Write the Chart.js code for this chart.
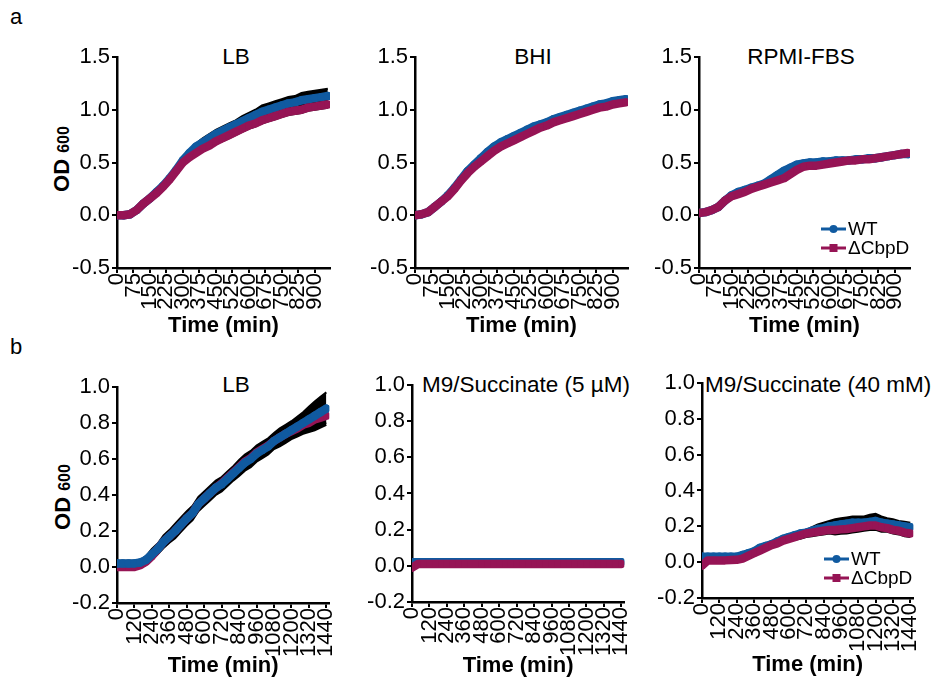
<!DOCTYPE html>
<html>
<head>
<meta charset="utf-8">
<script src="https://cdn.jsdelivr.net/npm/chart.js@4.4.1/dist/chart.umd.min.js"></script>
<style>
body { margin: 0; background: #fff; width: 940px; height: 682px; position: relative; overflow: hidden;
       font-family: "Liberation Sans", Arial, sans-serif; color: #000; }
canvas { position: absolute; }
.txt { position: absolute; font-size: 22.5px; line-height: 1; white-space: nowrap; }
.mid { transform: translateX(-50%); }
.ylab { position: absolute; font-weight: bold; font-size: 22px; line-height: 1; white-space: nowrap;
        transform: translate(-50%, -50%) rotate(-90deg); }
.ylab span { font-size: 16px; }
</style>
</head>
<body>
<div class="txt" style="left:10px;top:6px;font-size:22px">a</div>
<div class="txt" style="left:10px;top:336px;font-size:22px">b</div>
<div class="ylab" style="left:62px;top:159px">OD <span>600</span></div>
<div class="ylab" style="left:63px;top:497px">OD <span>600</span></div>
<div class="txt mid" style="left:236px;top:46px">LB</div>
<div class="txt mid" style="left:533px;top:46px">BHI</div>
<div class="txt mid" style="left:801px;top:46px">RPMI-FBS</div>
<div class="txt mid" style="left:236px;top:374px">LB</div>
<div class="txt" style="left:422px;top:374px">M9/Succinate (5 µM)</div>
<div class="txt" style="left:705px;top:374px">M9/Succinate (40 mM)</div>

<script>
// time points (min)
const timeA = [0,30,60,90,120,150,180,210,240,270,300,330,360,390,420,450,480,510,540,570,600,630,660,690,720,750,780,810,840,870,900,930,960];
const timeB = [0,40,80,120,160,200,240,280,320,360,400,440,480,520,560,600,640,680,720,760,800,840,880,920,960,1000,1040,1080,1120,1160,1200,1240,1280,1320,1360,1400,1440];

// tick labels
const xTicksA = [0,75,150,225,300,375,450,525,600,675,750,825,900];
const xTicksB = [0,120,240,360,480,600,720,840,960,1080,1200,1320,1440];
const yTicksA = [-0.5,0,0.5,1.0,1.5];
const yTicksB = [-0.2,0,0.2,0.4,0.6,0.8,1.0];

const seriesNames = ['WT', 'ΔCbpD'];

// a - LB
const aLB_wt   = [0.00,0.00,0.01,0.05,0.11,0.16,0.22,0.28,0.35,0.43,0.52,0.59,0.65,0.69,0.73,0.77,0.80,0.83,0.86,0.89,0.92,0.95,0.98,1.00,1.02,1.04,1.06,1.07,1.09,1.10,1.11,1.12,1.13];
const aLB_wtSd = [0.01,0.01,0.01,0.01,0.01,0.02,0.02,0.02,0.02,0.03,0.03,0.03,0.03,0.04,0.04,0.04,0.04,0.04,0.04,0.05,0.05,0.05,0.06,0.06,0.06,0.06,0.06,0.06,0.07,0.07,0.07,0.07,0.07];
const aLB_ko   = [0.00,0.00,0.01,0.05,0.11,0.16,0.21,0.27,0.34,0.42,0.50,0.55,0.59,0.63,0.66,0.70,0.73,0.76,0.79,0.82,0.85,0.87,0.90,0.92,0.94,0.96,0.98,0.99,1.00,1.02,1.03,1.04,1.05];
const aLB_koSd = [0.01,0.01,0.01,0.01,0.01,0.01,0.01,0.02,0.02,0.02,0.02,0.02,0.02,0.02,0.02,0.02,0.03,0.03,0.03,0.03,0.03,0.03,0.03,0.03,0.03,0.03,0.03,0.03,0.03,0.03,0.03,0.03,0.03];

// a - BHI
const aBHI_wt   = [0.00,0.01,0.03,0.08,0.13,0.19,0.26,0.34,0.42,0.48,0.54,0.60,0.65,0.69,0.72,0.75,0.78,0.81,0.84,0.86,0.88,0.91,0.93,0.95,0.97,0.99,1.01,1.03,1.05,1.06,1.08,1.09,1.10];
const aBHI_wtSd = [0.01,0.01,0.01,0.01,0.01,0.01,0.02,0.02,0.02,0.02,0.02,0.02,0.02,0.02,0.02,0.02,0.02,0.02,0.02,0.02,0.02,0.02,0.02,0.02,0.02,0.02,0.02,0.02,0.02,0.02,0.02,0.02,0.02];
const aBHI_ko   = [0.00,0.01,0.03,0.08,0.13,0.18,0.25,0.33,0.40,0.46,0.51,0.56,0.61,0.65,0.68,0.71,0.74,0.77,0.80,0.83,0.85,0.88,0.90,0.92,0.94,0.96,0.98,1.00,1.02,1.03,1.05,1.06,1.07];
const aBHI_koSd = [0.01,0.01,0.01,0.01,0.01,0.01,0.02,0.02,0.02,0.02,0.02,0.02,0.02,0.02,0.02,0.02,0.02,0.02,0.02,0.02,0.02,0.02,0.02,0.02,0.02,0.02,0.02,0.02,0.02,0.02,0.02,0.02,0.02];

// a - RPMI-FBS
const aRP_wt   = [0.02,0.03,0.05,0.08,0.14,0.19,0.22,0.24,0.26,0.28,0.30,0.34,0.38,0.42,0.45,0.48,0.49,0.50,0.50,0.51,0.51,0.52,0.52,0.52,0.53,0.53,0.54,0.54,0.55,0.56,0.57,0.58,0.58];
const aRP_wtSd = [0.01,0.01,0.01,0.01,0.01,0.01,0.01,0.01,0.02,0.02,0.02,0.02,0.02,0.02,0.02,0.02,0.02,0.02,0.02,0.02,0.02,0.02,0.02,0.02,0.02,0.02,0.02,0.02,0.02,0.02,0.02,0.02,0.02];
const aRP_ko   = [0.02,0.03,0.05,0.08,0.14,0.18,0.20,0.22,0.25,0.27,0.29,0.31,0.33,0.35,0.39,0.43,0.46,0.47,0.47,0.48,0.49,0.50,0.51,0.52,0.52,0.53,0.53,0.54,0.55,0.56,0.57,0.58,0.59];
const aRP_koSd = [0.01,0.01,0.01,0.01,0.01,0.01,0.01,0.01,0.02,0.02,0.02,0.02,0.02,0.02,0.02,0.02,0.02,0.02,0.02,0.02,0.02,0.02,0.02,0.02,0.02,0.02,0.02,0.02,0.02,0.02,0.02,0.02,0.02];

// b - LB
const bLB_wt   = [0.02,0.02,0.02,0.02,0.025,0.04,0.07,0.10,0.14,0.17,0.20,0.235,0.27,0.30,0.35,0.38,0.41,0.44,0.46,0.49,0.52,0.55,0.58,0.60,0.63,0.65,0.67,0.70,0.72,0.74,0.76,0.78,0.80,0.82,0.84,0.86,0.88];
const bLB_wtSd = [0.015,0.015,0.015,0.015,0.015,0.02,0.03,0.03,0.035,0.035,0.04,0.04,0.04,0.04,0.04,0.04,0.04,0.04,0.04,0.04,0.04,0.045,0.045,0.045,0.045,0.045,0.045,0.045,0.05,0.05,0.05,0.055,0.06,0.07,0.08,0.085,0.09];
const bLB_ko   = [0.00,0.00,0.00,0.00,0.01,0.03,0.06,0.10,0.14,0.17,0.20,0.235,0.27,0.30,0.35,0.38,0.41,0.44,0.465,0.495,0.525,0.555,0.585,0.605,0.635,0.655,0.675,0.70,0.72,0.74,0.755,0.77,0.79,0.80,0.82,0.83,0.84];
const bLB_koSd = [0.01,0.01,0.01,0.01,0.01,0.02,0.02,0.02,0.02,0.02,0.02,0.02,0.02,0.02,0.02,0.02,0.02,0.02,0.02,0.02,0.02,0.02,0.02,0.02,0.02,0.02,0.02,0.02,0.03,0.03,0.03,0.03,0.03,0.04,0.04,0.04,0.04];

// b - M9/Succinate (5 uM)
const bM5_wt   = [0.02,0.02,0.02,0.02,0.02,0.02,0.02,0.02,0.02,0.02,0.02,0.02,0.02,0.02,0.02,0.02,0.02,0.02,0.02,0.02,0.02,0.02,0.02,0.02,0.02,0.02,0.02,0.02,0.02,0.02,0.02,0.02,0.02,0.02,0.02,0.02,0.02];
const bM5_wtSd = [0.005,0.005,0.005,0.005,0.005,0.005,0.005,0.005,0.005,0.005,0.005,0.005,0.005,0.005,0.005,0.005,0.005,0.005,0.005,0.005,0.005,0.005,0.005,0.005,0.005,0.005,0.005,0.005,0.005,0.005,0.005,0.005,0.005,0.005,0.005,0.005,0.005];
const bM5_ko   = [-0.01,0.01,0.01,0.01,0.01,0.01,0.01,0.01,0.01,0.01,0.01,0.01,0.01,0.01,0.01,0.01,0.01,0.01,0.01,0.01,0.01,0.01,0.01,0.01,0.01,0.01,0.01,0.01,0.01,0.01,0.01,0.01,0.01,0.01,0.01,0.01,0.01];
const bM5_koSd = [0.005,0.005,0.005,0.005,0.005,0.005,0.005,0.005,0.005,0.005,0.005,0.005,0.005,0.005,0.005,0.005,0.005,0.005,0.005,0.005,0.005,0.005,0.005,0.005,0.005,0.005,0.005,0.005,0.005,0.005,0.005,0.005,0.005,0.005,0.005,0.005,0.005];

// b - M9/Succinate (40 mM)
const bM40_wt   = [0.03,0.03,0.03,0.03,0.03,0.03,0.03,0.04,0.05,0.06,0.08,0.09,0.10,0.115,0.13,0.14,0.15,0.16,0.165,0.175,0.185,0.19,0.20,0.205,0.21,0.215,0.22,0.22,0.22,0.225,0.23,0.22,0.215,0.21,0.205,0.20,0.195];
const bM40_wtSd = [0.01,0.01,0.01,0.01,0.01,0.01,0.01,0.01,0.01,0.01,0.01,0.01,0.01,0.01,0.01,0.01,0.01,0.01,0.015,0.02,0.025,0.03,0.03,0.035,0.035,0.035,0.035,0.035,0.035,0.04,0.04,0.035,0.03,0.03,0.025,0.025,0.025];
const bM40_ko   = [-0.02,0.01,0.01,0.01,0.01,0.012,0.013,0.02,0.035,0.05,0.065,0.08,0.095,0.105,0.12,0.13,0.14,0.15,0.16,0.165,0.17,0.175,0.18,0.18,0.183,0.185,0.19,0.195,0.20,0.205,0.205,0.195,0.19,0.18,0.175,0.165,0.16];
const bM40_koSd = [0.01,0.01,0.01,0.01,0.01,0.01,0.01,0.01,0.01,0.01,0.01,0.01,0.01,0.01,0.01,0.01,0.015,0.02,0.02,0.02,0.02,0.02,0.02,0.025,0.025,0.025,0.025,0.025,0.025,0.025,0.025,0.025,0.02,0.02,0.02,0.02,0.02];

// panel layout: chart area left, top, right, bottom and x-title centre
const panels = [
  {x: timeA, xMax: 970,  xTicks: xTicksA, yTicks: yTicksA, wt: aLB_wt,  wtSd: aLB_wtSd,  ko: aLB_ko,  koSd: aLB_koSd,  box: [117, 57, 330, 268, 326]},
  {x: timeA, xMax: 970,  xTicks: xTicksA, yTicks: yTicksA, wt: aBHI_wt, wtSd: aBHI_wtSd, ko: aBHI_ko, koSd: aBHI_koSd, box: [415, 57, 628, 268, 326]},
  {x: timeA, xMax: 970,  xTicks: xTicksA, yTicks: yTicksA, wt: aRP_wt,  wtSd: aRP_wtSd,  ko: aRP_ko,  koSd: aRP_koSd,  box: [699, 57, 910, 268, 326], legend: true},
  {x: timeB, xMax: 1460, xTicks: xTicksB, yTicks: yTicksB, wt: bLB_wt,  wtSd: bLB_wtSd,  ko: bLB_ko,  koSd: bLB_koSd,  box: [117, 387, 333, 603, 666], wtOnTop: true},
  {x: timeB, xMax: 1460, xTicks: xTicksB, yTicks: yTicksB, wt: bM5_wt,  wtSd: bM5_wtSd,  ko: bM5_ko,  koSd: bM5_koSd,  box: [412, 385, 628, 602, 666]},
  {x: timeB, xMax: 1460, xTicks: xTicksB, yTicks: yTicksB, wt: bM40_wt, wtSd: bM40_wtSd, ko: bM40_ko, koSd: bM40_koSd, box: [702, 383, 917, 598, 665], legend: true}
];

const BLUE = '#105aa0';
const MAROON = '#961455';
const FONT = '"Liberation Sans", Arial, sans-serif';

Chart.defaults.font.family = FONT;
Chart.defaults.color = '#000';

// WT / ΔCbpD key drawn inside the plot, bottom right
const insideLegend = {
  id: 'insideLegend',
  afterDraw(chart, args, opts) {
    if (!opts.display) return;
    const {ctx, chartArea} = chart;
    ctx.save();
    chart.data.datasets.filter(d => d.legendRow !== undefined).forEach(d => {
      const x = chartArea.left + opts.left;
      const y = chartArea.bottom - opts.bottom + d.legendRow * opts.rowGap;
      ctx.strokeStyle = d.borderColor;
      ctx.fillStyle = d.borderColor;
      ctx.lineWidth = 3;
      ctx.beginPath(); ctx.moveTo(x, y); ctx.lineTo(x + 25, y); ctx.stroke();
      if (d.pointStyle === 'rect') ctx.fillRect(x + 8.5, y - 4, 8, 8);
      else { ctx.beginPath(); ctx.arc(x + 12.5, y, 4, 0, Math.PI * 2); ctx.fill(); }
      ctx.fillStyle = '#000';
      ctx.font = '19px ' + FONT;
      ctx.textBaseline = 'middle';
      ctx.fillText(d.label, x + 27, y + 1);
    });
    ctx.restore();
  }
};

panels.forEach(p => {
  const [L, T, R, B, TY] = p.box;
  const padL = 80, padT = 25, padR = 20;
  const xH = TY - B + 15;
  const cv = document.createElement('canvas');
  cv.width = (R - L) + padL + padR;
  cv.height = padT + (B - T) + xH;
  cv.style.left = (L - padL) + 'px';
  cv.style.top = (T - padT) + 'px';
  document.body.appendChild(cv);

  const pts = ys => p.x.map((t, i) => ({x: t, y: ys[i]}));
  const edge = (ys, sd, s) => p.x.map((t, i) => ({x: t, y: ys[i] + s * sd[i]}));
  const errBand = (ys, sd, ord) => [
    {data: edge(ys, sd, 1),  borderColor: '#000', backgroundColor: '#000', borderWidth: 2, pointRadius: 0, fill: '+1', order: ord},
    {data: edge(ys, sd, -1), borderColor: '#000', backgroundColor: '#000', borderWidth: 2, pointRadius: 0, fill: false, order: ord}
  ];
  const line = (name, ys, color, style, row, ord) => ({
    label: name, data: pts(ys), legendRow: row,
    borderColor: color, backgroundColor: color, borderWidth: 8.5,
    borderCapStyle: 'round', borderJoinStyle: 'round',
    pointStyle: style, pointRadius: 4.2, pointBorderWidth: 0,
    pointBackgroundColor: color, fill: false, order: ord
  });

  const tickGrid = {drawOnChartArea: false, drawTicks: true, tickLength: 5, color: '#000', lineWidth: 2};

  new Chart(cv, {
    type: 'line',
    data: {
      datasets: [
        ...errBand(p.wt, p.wtSd, 10),
        ...errBand(p.ko, p.koSd, 9),
        line(seriesNames[0], p.wt, BLUE, 'circle', 0, p.wtOnTop ? 0 : 1),
        line(seriesNames[1], p.ko, MAROON, 'rect', 1, p.wtOnTop ? 1 : 0)
      ]
    },
    options: {
      responsive: false,
      animation: false,
      devicePixelRatio: 1,
      layout: {autoPadding: false, padding: {left: 0, top: padT, right: padR, bottom: 0}},
      scales: {
        x: {
          type: 'linear', min: 0, max: p.xMax,
          afterBuildTicks: s => { s.ticks = p.xTicks.map(v => ({value: v})); },
          afterFit: s => { s.height = xH; },
          ticks: {autoSkip: false, minRotation: 90, maxRotation: 90, padding: 0,
                  font: {size: 22}, color: '#000', callback: v => String(v)},
          grid: tickGrid,
          border: {display: true, color: '#000', width: 2.5},
          title: {display: true, text: 'Time (min)', color: '#000',
                  font: {size: 22, weight: 'bold'}, padding: {top: 0, bottom: 2}}
        },
        y: {
          type: 'linear', min: p.yTicks[0], max: p.yTicks[p.yTicks.length - 1],
          afterBuildTicks: s => { s.ticks = p.yTicks.map(v => ({value: v})); },
          afterFit: s => { s.width = padL; },
          ticks: {autoSkip: false, padding: 2, font: {size: 22}, color: '#000',
                  callback: v => (Math.abs(v) < 1e-9 ? 0 : v).toFixed(1)},
          grid: tickGrid,
          border: {display: true, color: '#000', width: 2.5}
        }
      },
      plugins: {
        legend: {display: false},
        tooltip: {enabled: false},
        insideLegend: {display: !!p.legend, left: 122, bottom: 39, rowGap: 19}
      }
    },
    plugins: [insideLegend]
  });
});
</script>
</body>
</html>
